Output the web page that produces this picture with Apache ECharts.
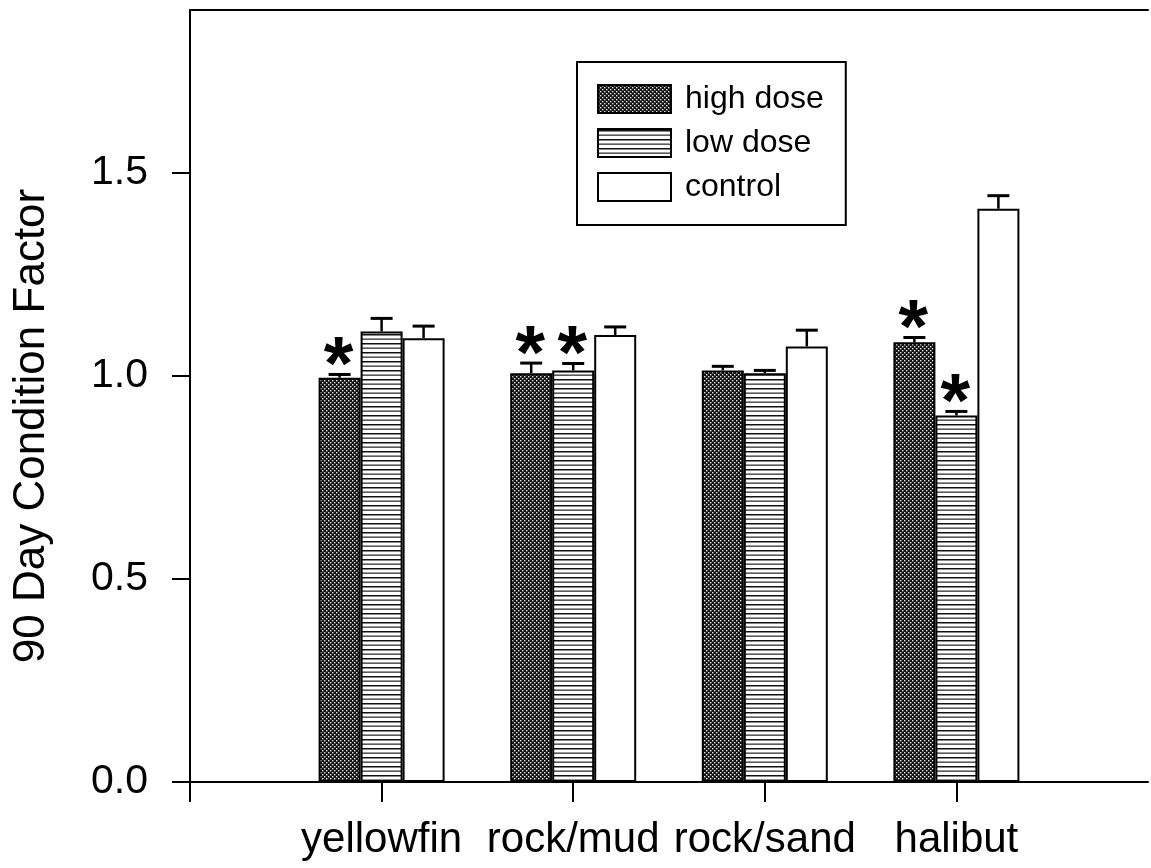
<!DOCTYPE html>
<html>
<head>
<meta charset="utf-8">
<script src="https://cdn.jsdelivr.net/npm/echarts@6/dist/echarts.min.js"></script>
<style>
  html, body { margin: 0; padding: 0; background: #fff; }
  #chart { width: 1151px; height: 868px; }
</style>
</head>
<body>
<div id="chart"></div>
<script>
// Condition factor after 90 days, by fish group and treatment
const categories = ['yellowfin', 'rock/mud', 'rock/sand', 'halibut'];
const seriesNames = ['high dose', 'low dose', 'control'];

const highDose = [0.995, 1.006, 1.013, 1.082];
const lowDose  = [1.109, 1.013, 1.006, 0.902];
const control  = [1.092, 1.100, 1.072, 1.411];

// standard errors
const highDoseErr = [0.008, 0.025, 0.010, 0.012];
const lowDoseErr  = [0.032, 0.017, 0.007, 0.010];
const controlErr  = [0.030, 0.020, 0.040, 0.032];

// significantly different from control (marked with *)
const highDoseSig = [true, true, false, true];
const lowDoseSig  = [false, true, false, true];
const controlSig  = [false, false, false, false];

const yTicks = [0, 0.5, 1.0, 1.5];

const FONT = '"Liberation Sans", Arial, Helvetica, sans-serif';
const BAR_W = 42;

// fill patterns
function makePattern(w, h, draw) {
  const c = document.createElement('canvas');
  c.width = w; c.height = h;
  draw(c.getContext('2d'));
  return { image: c, repeat: 'repeat' };
}
const darkDots = makePattern(4, 4, ctx => {
  ctx.fillStyle = '#111'; ctx.fillRect(0, 0, 4, 4);
  ctx.fillStyle = '#e8e8e8';
  ctx.fillRect(0, 0, 1.4, 1.4);
  ctx.fillRect(2, 2, 1.4, 1.4);
});
const hStripes = makePattern(8, 9, ctx => {
  ctx.fillStyle = '#fff'; ctx.fillRect(0, 0, 8, 9);
  ctx.fillStyle = '#111'; ctx.fillRect(0, 1, 8, 1.5);
  ctx.fillStyle = '#333'; ctx.fillRect(0, 5.5, 8, 1.3);
});

const values = [highDose, lowDose, control];
const errs = [highDoseErr, lowDoseErr, controlErr];
const sigs = [highDoseSig, lowDoseSig, controlSig];
const fills = [darkDots, hStripes, '#fff'];

// category axis padded with empty slots at both ends
const axisCats = [''].concat(categories, ['']);

const barSeries = seriesNames.map((name, g) => ({
  name,
  type: 'bar',
  barWidth: BAR_W,
  barGap: 0,
  itemStyle: { color: fills[g], borderColor: '#000', borderWidth: 2 },
  emphasis: { disabled: true },
  data: values[g].map((v, i) => [i + 1, v])
}));

const errData = [];
values.forEach((arr, g) => arr.forEach((v, i) => {
  errData.push([i + 1, v, errs[g][i], g, sigs[g][i] ? 1 : 0]);
}));

// error bars with caps, and an asterisk above significant bars
const errSeries = {
  type: 'custom',
  z: 5,
  silent: true,
  clip: false,
  encode: { x: 0, y: 1 },
  data: errData,
  renderItem(params, api) {
    const cat = api.value(0), val = api.value(1), err = api.value(2);
    const g = api.value(3), sig = api.value(4);
    const base = api.coord([cat, val]);
    const top = api.coord([cat, val + err]);
    const x = base[0] + (g - 1) * BAR_W;
    const children = [
      { type: 'line', shape: { x1: x, y1: base[1], x2: x, y2: top[1] },
        style: { stroke: '#000', lineWidth: 2.5 } },
      { type: 'line', shape: { x1: x - 11, y1: top[1], x2: x + 11, y2: top[1] },
        style: { stroke: '#000', lineWidth: 3 } }
    ];
    if (sig) {
      children.push({
        type: 'text', x: x - 1, y: top[1] - 6,
        style: { text: '*', font: 'bold 76px ' + FONT, fill: '#000',
                 align: 'center', verticalAlign: 'middle' }
      });
    }
    return { type: 'group', children };
  }
};

const chart = echarts.init(document.getElementById('chart'));
chart.setOption({
  animation: false,
  backgroundColor: '#fff',
  textStyle: { fontFamily: FONT, color: '#000' },
  grid: { left: 190, right: 0, top: 10, bottom: 86 },
  legend: {
    data: seriesNames,
    orient: 'vertical',
    left: 577, top: 62,
    icon: 'rect',
    itemWidth: 73, itemHeight: 28, itemGap: 12,
    padding: [21, 22, 22, 20],
    borderColor: '#000', borderWidth: 2,
    selectedMode: false,
    textStyle: { fontFamily: FONT, fontSize: 32, color: '#000', padding: [0, 0, 0, 9] }
  },
  xAxis: [{
    type: 'category',
    data: axisCats,
    boundaryGap: false,
    axisLine: { lineStyle: { color: '#000', width: 2 } },
    axisTick: { interval: (i) => i < axisCats.length - 1, length: 20,
                lineStyle: { color: '#000', width: 2 } },
    axisLabel: { interval: 0, fontFamily: FONT, fontSize: 42, color: '#000', margin: 37 }
  }, {
    type: 'category',
    data: axisCats,
    boundaryGap: false,
    position: 'top',
    axisLine: { show: true, lineStyle: { color: '#000', width: 2 } },
    axisTick: { show: false },
    axisLabel: { show: false }
  }],
  yAxis: {
    type: 'value',
    min: 0, max: 1.9, interval: 0.5,
    splitLine: { show: false },
    axisLine: { show: true, lineStyle: { color: '#000', width: 2 } },
    axisTick: { show: true, length: 18, customValues: yTicks,
                lineStyle: { color: '#000', width: 2 } },
    axisLabel: { customValues: yTicks, formatter: v => v.toFixed(1),
                 fontFamily: FONT, fontSize: 41, color: '#000', margin: 42 },
    name: '90 Day Condition Factor',
    nameLocation: 'middle',
    nameRotate: 90,
    nameGap: 136,
    nameTextStyle: { fontFamily: FONT, fontSize: 44, color: '#000', padding: [0, 60, 0, 0] }
  },
  series: barSeries.concat([errSeries])
});
</script>
</body>
</html>
